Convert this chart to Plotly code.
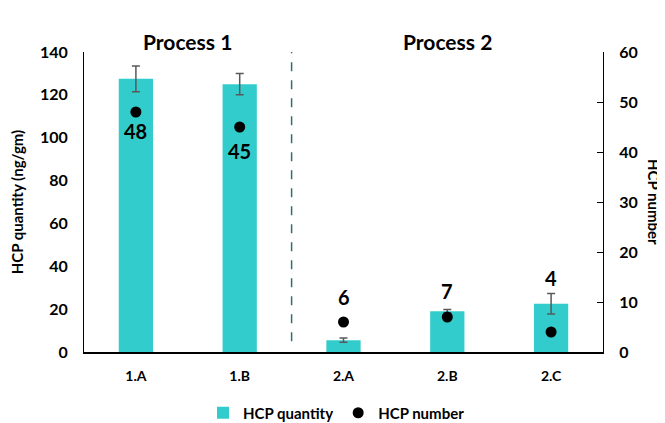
import plotly.graph_objects as go

categories = ["1.A", "1.B", "2.A", "2.B", "2.C"]
hcp_quantity = [127.5, 125, 5.5, 19, 22.5]
hcp_quantity_err = [6, 5, 1, 0.8, 4.8]
hcp_number = [48, 45, 6, 7, 4]
number_labels = ["48", "45", "6", "7", "4"]
label_shift = [-19, -24, 25, 26, 54]
group_titles = ["Process 1", "Process 2"]

FONT = "Lato"
OFF = 8  # page body margin offset
W, H = 665 - OFF, 423 - OFF

fig = go.Figure()
fig.add_trace(go.Bar(
    x=categories, y=hcp_quantity, name="HCP quantity",
    marker=dict(color="#33CCCC", line=dict(width=0)),
    error_y=dict(type="data", array=hcp_quantity_err, color="#595959", thickness=1.5, width=4),
    yaxis="y",
))
fig.add_trace(go.Scatter(
    x=categories, y=hcp_number, name="HCP number", mode="markers",
    marker=dict(color="black", size=11), yaxis="y2",
))

annotations = []
for c, v, t, s in zip(categories, hcp_number, number_labels, label_shift):
    annotations.append(dict(x=c, y=v, xref="x", yref="y2", text="<b>%s</b>" % t,
                            showarrow=False, yshift=s,
                            font=dict(family=FONT, size=20, color="black")))
annotations.append(dict(x=0.5, y=1.0, xref="x", yref="paper", yshift=25,
                        text="<b>%s</b>" % group_titles[0], showarrow=False,
                        font=dict(family=FONT, size=21, color="black")))
annotations.append(dict(x=3, y=1.0, xref="x", yref="paper", yshift=25,
                        text="<b>%s</b>" % group_titles[1], showarrow=False,
                        font=dict(family=FONT, size=21, color="black")))
annotations.append(dict(x=1.0, y=0.5, xref="paper", yref="paper", xshift=51,
                        xanchor="center", yanchor="middle",
                        text="<b>HCP number</b>", textangle=90, showarrow=False,
                        font=dict(family=FONT, size=15, color="black")))

fig.update_layout(
    width=W, height=H,
    margin=dict(l=84 - OFF, r=62, t=52 - OFF, b=71),
    plot_bgcolor="white", paper_bgcolor="white",
    font=dict(family=FONT, size=15, color="black"),
    bargap=0.67,
    showlegend=True,
    legend=dict(orientation="h", x=0.5, xanchor="center", xref="container",
                y=10 / H, yanchor="middle", yref="container",
                font=dict(family=FONT, size=15, color="black", weight="bold")),
    xaxis=dict(showline=True, linecolor="black", linewidth=1.5, showgrid=False,
               automargin=False, ticklabelstandoff=10,
               tickfont=dict(family=FONT, size=14, weight="bold"), ticks=""),
    yaxis=dict(range=[0, 140], dtick=20, showline=True, linecolor="black", linewidth=1,
               showgrid=False, zeroline=False, ticks="", automargin=False,
               ticklabelstandoff=12,
               tickfont=dict(family=FONT, size=16, weight="bold"),
               title=dict(text="<b>HCP quantity (ng/gm)</b>", font=dict(family=FONT, size=15), standoff=14)),
    yaxis2=dict(range=[0, 60], dtick=10, overlaying="y", side="right", showline=True,
                linecolor="black", linewidth=1, showgrid=False, zeroline=False,
                ticks="inside", ticklen=6, tickcolor="black", automargin=False,
                ticklabelstandoff=12,
                tickfont=dict(family=FONT, size=16, weight="bold")),
    annotations=annotations,
    shapes=[dict(type="line", xref="x", yref="y", x0=1.5, x1=1.5, y0=5, y1=140,
                 line=dict(color="#2E6F6F", width=1.5, dash="dash"))],
)
fig.write_html("out.html")
